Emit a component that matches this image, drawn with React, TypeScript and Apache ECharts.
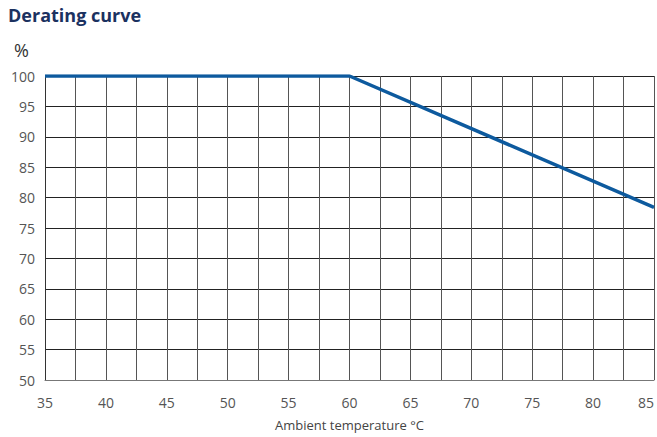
import React, { useEffect, useRef } from "react";
import * as echarts from "echarts";

const temperatures = [35, 60, 85];
const outputPercent = [100, 100, 78.4];
const xTicks = [35, 40, 45, 50, 55, 60, 65, 70, 75, 80, 85];
const yTicks = [50, 55, 60, 65, 70, 75, 80, 85, 90, 95, 100];

export default function App() {
  const ref = useRef<HTMLDivElement>(null);
  useEffect(() => {
    if (!ref.current) return;
    const chart = echarts.init(ref.current, undefined, { renderer: "svg" });
    const font = "'Open Sans', 'Noto Sans', sans-serif";
    chart.setOption({
      animation: false,
      backgroundColor: "#ffffff",
      title: {
        text: "Derating curve",
        left: 8,
        top: 6,
        padding: 0,
        textStyle: { fontFamily: font, fontWeight: "bold", fontSize: 18, color: "#1b3160" },
      },
      graphic: [
        {
          type: "text",
          left: 14,
          top: 41,
          style: { text: "%", font: `18px ${font}`, fill: "#333333" },
        },
      ],
      grid: { left: 45, right: 3, top: 76, bottom: 57, outerBoundsMode: "none", containLabel: false },
      xAxis: {
        type: "value",
        min: xTicks[0],
        max: xTicks[xTicks.length - 1],
        interval: 2.5,
        name: "Ambient temperature °C",
        nameLocation: "middle",
        nameGap: 38,
        nameTextStyle: { fontFamily: font, fontSize: 13, color: "#444444" },
        axisLine: { show: true, lineStyle: { color: "#777777", width: 1 } },
        axisTick: { show: false },
        axisLabel: {
          margin: 15,
          fontFamily: font,
          fontSize: 14,
          color: "#555555",
          alignMaxLabel: "right",
          formatter: (v: number) => (xTicks.includes(v) ? String(v) : ""),
        },
        splitLine: { show: true, lineStyle: { color: "#555555", width: 1 } },
      },
      yAxis: {
        type: "value",
        min: yTicks[0],
        max: yTicks[yTicks.length - 1],
        interval: 5,
        axisLine: { show: true, lineStyle: { color: "#333333", width: 1 } },
        axisTick: { show: false },
        axisLabel: {
          margin: 10,
          fontFamily: font,
          fontSize: 14,
          color: "#555555",
          formatter: (v: number) => (yTicks.includes(v) ? String(v) : ""),
        },
        splitLine: { show: true, lineStyle: { color: "#222222", width: 1 } },
      },
      series: [
        {
          type: "line",
          data: temperatures.map((t, i) => [t, outputPercent[i]]),
          symbol: "none",
          lineStyle: { color: "#0d5a9e", width: 3.5 },
          z: 10,
        },
      ],
    });
    return () => chart.dispose();
  }, []);
  return (
    <div
      ref={ref}
      style={{ position: "fixed", left: 0, top: 0, width: 657, height: 437, background: "#fff" }}
    />
  );
}
